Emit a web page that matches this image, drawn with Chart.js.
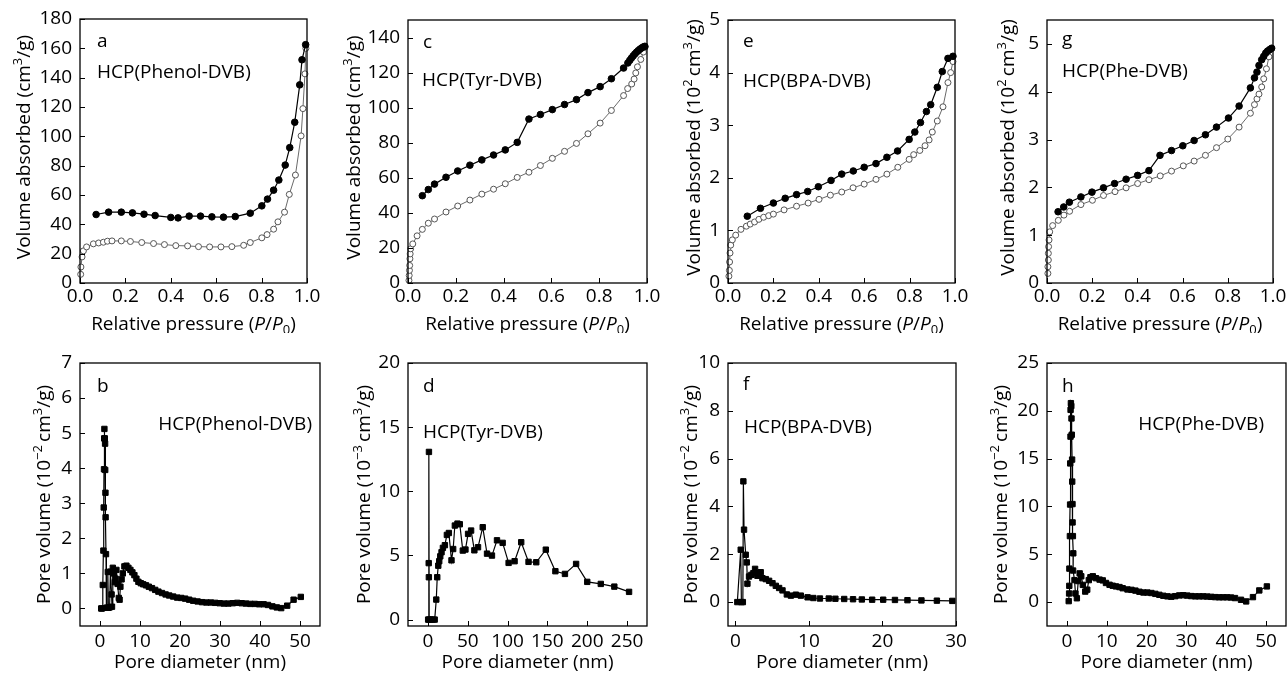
<!DOCTYPE html>
<html>
<head>
<meta charset="utf-8">
<script src="https://cdn.jsdelivr.net/npm/chart.js@4.4.1/dist/chart.umd.min.js"></script>
<style>
html, body { margin: 0; padding: 0; background: #fff; width: 1288px; height: 675px; overflow: hidden; }
canvas { position: absolute; }
</style>
</head>
<body>
<canvas id="pa"></canvas><canvas id="pc"></canvas><canvas id="pe"></canvas><canvas id="pg"></canvas>
<canvas id="pb"></canvas><canvas id="pd"></canvas><canvas id="pf"></canvas><canvas id="ph"></canvas>
<script>
// ---- isotherms (relative pressure P/P0 vs volume) ----
// open circles = adsorption, filled circles = desorption
const phenolAdsP = [0.003,0.004,0.009,0.015,0.029,0.059,0.082,0.103,0.121,0.141,0.182,0.222,0.272,0.324,0.372,0.422,0.474,0.522,0.571,0.621,0.669,0.721,0.75,0.801,0.824,0.853,0.872,0.901,0.922,0.949,0.974,0.982,0.991,0.995];
const phenolAdsV = [5.9,10.9,17.8,21.9,24.6,26.7,27.3,27.8,28.5,28.7,28.7,28.3,27.6,26.9,26.2,25.5,25.3,24.8,24.6,24.6,24.8,25.7,27.6,30.8,33.0,36.7,41.7,48.3,60.4,73.6,100.3,118.9,142.6,160];
const phenolDesP = [0.071,0.126,0.182,0.231,0.282,0.331,0.40,0.432,0.481,0.531,0.581,0.632,0.684,0.75,0.801,0.826,0.853,0.876,0.904,0.924,0.946,0.968,0.978,0.994];
const phenolDesV = [46.7,48.3,48.3,47.8,46.9,46.0,44.7,44.4,45.6,45.6,45.1,44.9,45.3,47.6,52.6,57.2,63.3,70.2,80.4,92.3,109.6,135.1,152.2,162.5];

const tyrAdsP = [0.004,0.005,0.006,0.007,0.008,0.009,0.011,0.02,0.038,0.06,0.085,0.111,0.159,0.208,0.259,0.309,0.358,0.407,0.457,0.506,0.554,0.604,0.655,0.705,0.753,0.804,0.851,0.902,0.919,0.936,0.946,0.953,0.96,0.974,0.985,0.992];
const tyrAdsV = [1.5,4.3,7.2,10,13.8,16.6,19.5,22.3,26.9,30.6,34.1,36.5,40.5,43.9,47.3,50.7,53.5,56.6,60.2,63.2,67.0,71.1,75.1,79.6,85.1,91.2,98.4,106.9,110.9,113.5,116.3,119.8,123.3,127.5,131.7,134.5];
const tyrDesP = [0.06,0.085,0.111,0.159,0.208,0.259,0.309,0.358,0.407,0.457,0.506,0.554,0.604,0.655,0.705,0.753,0.804,0.851,0.902,0.92,0.928,0.935,0.942,0.949,0.956,0.963,0.97,0.977,0.984,0.991];
const tyrDesV = [49.8,53.3,56.4,60.3,63.9,67.2,70.2,73.0,75.9,80.2,93.5,96.1,98.9,101.8,104.6,108.6,112.0,116.5,122.6,125.5,127,128.3,129.5,130.6,131.6,132.5,133.3,134.0,134.6,135.0];

const bpaAdsP = [0.004,0.006,0.007,0.009,0.012,0.019,0.034,0.057,0.081,0.098,0.117,0.136,0.157,0.179,0.2,0.247,0.302,0.353,0.401,0.451,0.501,0.551,0.6,0.652,0.7,0.748,0.798,0.818,0.845,0.868,0.886,0.9,0.922,0.947,0.969,0.981,0.991];
const bpaAdsV = [0.13,0.24,0.40,0.57,0.72,0.82,0.91,1.02,1.08,1.12,1.16,1.21,1.25,1.28,1.31,1.39,1.46,1.52,1.59,1.67,1.73,1.81,1.88,1.97,2.07,2.20,2.35,2.44,2.52,2.61,2.72,2.87,3.08,3.35,3.81,4.0,4.21];
const bpaDesP = [0.085,0.143,0.2,0.252,0.302,0.351,0.398,0.454,0.501,0.552,0.6,0.652,0.7,0.747,0.798,0.823,0.848,0.874,0.893,0.922,0.944,0.969,0.991];
const bpaDesV = [1.27,1.42,1.52,1.61,1.68,1.74,1.83,1.95,2.07,2.13,2.20,2.27,2.39,2.51,2.73,2.87,3.05,3.26,3.39,3.72,4.02,4.27,4.31];

const pheAdsP = [0.004,0.004,0.006,0.006,0.007,0.009,0.012,0.025,0.05,0.075,0.1,0.15,0.201,0.25,0.301,0.35,0.401,0.451,0.501,0.551,0.603,0.651,0.701,0.75,0.8,0.85,0.9,0.918,0.929,0.938,0.95,0.959,0.971,0.982,0.993];
const pheAdsV = [0.2,0.34,0.48,0.62,0.76,0.9,1.07,1.2,1.31,1.42,1.50,1.64,1.73,1.83,1.91,1.99,2.08,2.16,2.24,2.34,2.45,2.55,2.67,2.83,3.01,3.26,3.55,3.73,3.85,3.95,4.1,4.27,4.48,4.73,4.9];
const pheDesP = [0.049,0.074,0.099,0.15,0.199,0.25,0.299,0.35,0.401,0.451,0.5,0.551,0.601,0.651,0.701,0.75,0.803,0.85,0.9,0.918,0.929,0.938,0.95,0.959,0.968,0.976,0.985,0.994];
const pheDesV = [1.49,1.59,1.69,1.80,1.90,1.99,2.08,2.17,2.25,2.35,2.67,2.77,2.87,2.98,3.10,3.26,3.45,3.70,4.08,4.29,4.41,4.55,4.67,4.74,4.81,4.85,4.88,4.91];

// ---- pore size distributions [diameter nm, pore volume] ----
const phenolPsd = [[0.3,0],[0.5,0],[0.7,0.67],[0.85,1.65],[0.93,2.88],[1.0,3.97],[1.05,4.85],[1.1,5.12],[1.2,4.85],[1.27,4.7],[1.3,3.95],[1.36,3.3],[1.4,2.6],[1.5,1.55],[1.6,0.02],[1.8,0.02],[1.95,1.04],[2.1,0.02],[2.4,0.03],[2.6,1.05],[2.9,0.4],[3.0,0.05],[3.2,1.16],[3.4,1.0],[3.7,0.75],[3.9,0.85],[4.1,1.1],[4.4,0.7],[4.7,0.3],[4.9,0.25],[5.1,0.62],[5.4,0.83],[5.7,1.0],[6.1,1.2],[6.6,1.22],[7.1,1.16],[7.6,1.1],[8.1,1.03],[8.6,0.95],[9.1,0.85],[9.6,0.76],[10.2,0.72],[10.8,0.69],[11.5,0.66],[12.2,0.62],[13,0.58],[13.8,0.53],[14.6,0.48],[15.5,0.44],[16.4,0.4],[17.3,0.37],[18.3,0.34],[19.3,0.31],[20.3,0.3],[21.3,0.28],[22.3,0.25],[23.3,0.22],[24.4,0.2],[25.5,0.18],[26.6,0.17],[27.7,0.17],[28.8,0.16],[29.9,0.15],[31,0.14],[32.1,0.14],[33.2,0.15],[34.3,0.16],[35.4,0.15],[36.5,0.14],[37.6,0.13],[38.7,0.13],[39.8,0.12],[40.9,0.12],[42,0.1],[43.1,0.06],[44.2,0.03],[45.3,0.01],[46.8,0.08],[48.4,0.25],[50.2,0.33]];
const tyrPsd = [[0.3,0],[1.0,4.4],[1.2,3.3],[1.3,13.07],[1.6,0],[3,0],[6,0],[8.5,0],[10.5,1.56],[11.7,3.3],[13,4.2],[14.2,4.55],[15.5,4.93],[17.1,5.25],[18.8,5.59],[21.3,5.8],[23.8,6.6],[26.3,6.75],[29.6,4.62],[31.7,5.5],[33.8,7.33],[37.1,7.48],[40,7.43],[43.8,5.38],[47.1,5.46],[50.4,6.68],[54.2,6.94],[58.3,5.4],[62.9,5.64],[68.8,7.2],[74.2,5.14],[80.4,4.99],[86.7,6.18],[93.8,5.98],[101.3,4.42],[108.8,4.55],[117.1,6.03],[126.3,4.5],[136,4.47],[148,5.45],[160,3.77],[172,3.56],[186,4.34],[200,2.94],[217,2.78],[234,2.57],[252.5,2.16]];
const bpaPsd = [[0.27,0],[0.73,2.19],[0.82,0],[1.02,0],[1.09,5.05],[1.18,3.03],[1.41,1.98],[1.55,1.66],[1.64,0.77],[1.86,1.07],[2.18,1.14],[2.45,1.21],[2.68,1.39],[3.0,1.1],[3.23,1.21],[3.45,1.25],[3.68,1.0],[4.14,0.96],[4.59,0.89],[5.05,0.79],[5.5,0.68],[5.95,0.59],[6.41,0.49],[7.0,0.32],[7.55,0.27],[8.23,0.31],[8.9,0.27],[9.82,0.2],[10.6,0.17],[11.5,0.15],[12.7,0.15],[13.6,0.14],[14.8,0.13],[16,0.12],[17.2,0.11],[18.6,0.1],[20.1,0.1],[21.7,0.09],[23.4,0.08],[25.3,0.07],[27.4,0.06],[29.5,0.05]];
const phePsd = [[0.45,0.1],[0.55,0.9],[0.6,1.7],[0.62,3.5],[0.75,6.9],[0.8,10.2],[0.83,14.5],[0.9,17.3],[0.92,20.1],[1.0,20.8],[1.1,20.5],[1.15,19.2],[1.22,17.5],[1.3,14.9],[1.33,12.6],[1.4,10.25],[1.42,8.33],[1.5,6.9],[1.6,5.1],[1.55,3.3],[1.9,2.3],[2.15,0.9],[2.5,0.4],[2.85,2.2],[3.2,3.0],[3.6,2.7],[4.0,1.8],[4.6,1.1],[5.1,1.3],[5.5,2.3],[5.9,2.6],[6.5,2.7],[7.3,2.5],[8.2,2.35],[9.0,2.27],[9.8,2.0],[10.7,1.81],[11.5,1.71],[12.3,1.64],[13.2,1.57],[14.0,1.45],[15.2,1.32],[16.2,1.28],[17.2,1.2],[18.2,1.08],[19.2,1.0],[20.2,1.0],[21.2,0.95],[22.2,0.86],[23.2,0.76],[24.2,0.66],[25.2,0.6],[26.2,0.56],[27.2,0.62],[28.2,0.7],[29.2,0.72],[30.2,0.68],[31.2,0.63],[32.2,0.6],[33.2,0.6],[34.2,0.6],[35.2,0.58],[36.2,0.55],[37.2,0.52],[38.2,0.5],[39.2,0.5],[40.2,0.5],[41.2,0.48],[42.2,0.42],[43.7,0.24],[45.0,0.07],[46.7,0.52],[48.3,1.22],[50.2,1.64]];

// tick lists
const pressTicks = [0, 0.2, 0.4, 0.6, 0.8, 1.0];
const phenolVTicks = [0, 20, 40, 60, 80, 100, 120, 140, 160, 180];
const tyrVTicks = [0, 20, 40, 60, 80, 100, 120, 140];
const bpaVTicks = [0, 1, 2, 3, 4, 5];
const pheVTicks = [0, 1, 2, 3, 4, 5];
const phenolDTicks = [0, 10, 20, 30, 40, 50];
const phenolPvTicks = [0, 1, 2, 3, 4, 5, 6, 7];
const tyrDTicks = [0, 50, 100, 150, 200, 250];
const tyrPvTicks = [0, 5, 10, 15, 20];
const bpaDTicks = [0, 10, 20, 30];
const bpaPvTicks = [0, 2, 4, 6, 8, 10];
const pheDTicks = [0, 10, 20, 30, 40, 50];
const phePvTicks = [0, 5, 10, 15, 20, 25];

const FAM = "'Open Sans', 'DejaVu Sans', sans-serif";
const FS = 19;

// text pieces: [text, style] with style '' | 'i' | 'sup' | 'sub'
const tVolCm = [['Volume absorbed (cm'], ['3', 'sup'], ['/g)']];
const tVol102 = [['Volume absorbed (10'], ['2', 'sup'], ['\u2009cm'], ['3', 'sup'], ['/g)']];
const tPore2 = [['Pore volume (10'], ['\u22122', 'sup'], ['\u2009cm'], ['3', 'sup'], ['/g)']];
const tPore3 = [['Pore volume (10'], ['\u22123', 'sup'], ['\u2009cm'], ['3', 'sup'], ['/g)']];
const tPress = [['Relative pressure ('], ['P', 'i'], ['/'], ['P', 'i'], ['0', 'sub'], [')']];
const tDiam = [['Pore diameter (nm)']];

function runFont(style) {
    if (style === 'i') return 'italic ' + FS + 'px ' + FAM;
    if (style === 'sup' || style === 'sub') return Math.round(FS * 0.66) + 'px ' + FAM;
    return FS + 'px ' + FAM;
}

function drawRuns(ctx, runs, x, y, rotate) {
    ctx.save();
    ctx.textBaseline = 'alphabetic';
    ctx.textAlign = 'left';
    let total = 0;
    runs.forEach(r => { ctx.font = runFont(r[1]); total += ctx.measureText(r[0]).width; });
    ctx.translate(x, y);
    if (rotate) ctx.rotate(-Math.PI / 2);
    let cx = -total / 2;
    const base = rotate ? FS * 0.36 : 0;
    runs.forEach(r => {
        ctx.font = runFont(r[1]);
        let dy = 0;
        if (r[1] === 'sup') dy = -FS * 0.4;
        if (r[1] === 'sub') dy = FS * 0.22;
        ctx.fillText(r[0], cx, base + dy);
        cx += ctx.measureText(r[0]).width;
    });
    ctx.restore();
}

// frame, inward ticks, panel letter, sample name, axis titles
const decor = {
    id: 'decor',
    afterDraw(chart, args, o) {
        const ctx = chart.ctx;
        const a = chart.chartArea;
        ctx.save();
        ctx.strokeStyle = '#000';
        ctx.lineWidth = 1.3;
        ctx.strokeRect(a.left, a.top, a.right - a.left, a.bottom - a.top);
        ctx.lineWidth = 1;
        ctx.beginPath();
        chart.scales.x.ticks.forEach(t => {
            const px = Math.round(chart.scales.x.getPixelForValue(t.value)) + 0.5;
            ctx.moveTo(px, a.bottom); ctx.lineTo(px, a.bottom - 5);
        });
        chart.scales.y.ticks.forEach(t => {
            const py = Math.round(chart.scales.y.getPixelForValue(t.value)) + 0.5;
            ctx.moveTo(a.left, py); ctx.lineTo(a.left + 5, py);
        });
        ctx.stroke();
        ctx.fillStyle = '#000';
        ctx.font = FS + 'px ' + FAM;
        ctx.textBaseline = 'alphabetic';
        ctx.textAlign = 'left';
        ctx.fillText(o.letter, a.left + o.letterPos[0], a.top + o.letterPos[1]);
        if (o.nameAlign === 'right') {
            ctx.textAlign = 'right';
            ctx.fillText(o.name, a.right - o.namePos[0], a.top + o.namePos[1]);
        } else {
            ctx.fillText(o.name, a.left + o.namePos[0], a.top + o.namePos[1]);
        }
        ctx.restore();
        drawRuns(ctx, o.xTitle, (a.left + a.right) / 2, a.bottom + o.xTitleY, false);
        drawRuns(ctx, o.yTitle, a.left - o.yTitleX, (a.top + a.bottom) / 2 - (o.yShift || 0), true);
    }
};

function zip(xs, ys) {
    return xs.map((x, i) => ({ x: x, y: ys[i] }));
}

const TOP = 12, XH = 50, YW = 80, RP = 16;

function makePanel(id, box, xr, yr, xTicks, yTicks, datasets, deco, fmtX, tickPad) {
    const cv = document.getElementById(id);
    const w = box.R - box.L + YW + RP;
    const h = box.B - box.T + TOP + XH;
    cv.width = w; cv.height = h;
    cv.style.left = (box.L - YW) + 'px';
    cv.style.top = (box.T - TOP) + 'px';
    cv.style.width = w + 'px';
    cv.style.height = h + 'px';
    const tickFont = { family: FAM, size: FS };
    new Chart(cv.getContext('2d'), {
        type: 'scatter',
        data: { datasets: datasets },
        options: {
            responsive: false,
            animation: false,
            devicePixelRatio: 1,
            layout: { padding: { top: TOP, right: RP, left: 0, bottom: 0 } },
            plugins: { legend: { display: false }, tooltip: { enabled: false }, decor: deco },
            scales: {
                x: {
                    type: 'linear', min: xr[0], max: xr[1],
                    grid: { display: false, drawTicks: false }, border: { display: false },
                    afterBuildTicks: s => { s.ticks = xTicks.map(v => ({ value: v })); },
                    afterFit: s => { s.height = XH; s.paddingLeft = 0; s.paddingRight = 0; },
                    ticks: { font: tickFont, color: '#000', padding: tickPad, maxRotation: 0, autoSkip: false, callback: fmtX }
                },
                y: {
                    type: 'linear', min: yr[0], max: yr[1],
                    grid: { display: false, drawTicks: false }, border: { display: false },
                    afterBuildTicks: s => { s.ticks = yTicks.map(v => ({ value: v })); },
                    afterFit: s => { s.width = YW; s.paddingTop = 0; s.paddingBottom = 0; },
                    ticks: { font: tickFont, color: '#000', padding: 8, autoSkip: false, callback: v => String(v) }
                }
            }
        },
        plugins: [decor]
    });
}

function isotherm(desP, desV, adsP, adsV) {
    return [
        { data: zip(desP, desV), showLine: true, borderColor: '#000', borderWidth: 1.2, pointRadius: 3.3,
          pointBackgroundColor: '#000', pointBorderColor: '#000', pointBorderWidth: 1, clip: 8 },
        { data: zip(adsP, adsV), showLine: true, borderColor: '#6a6a6a', borderWidth: 1, pointRadius: 3,
          pointBackgroundColor: '#fff', pointBorderColor: '#555', pointBorderWidth: 1, clip: 8 }
    ];
}

function psd(pairs) {
    return [{ data: pairs.map(p => ({ x: p[0], y: p[1] })), showLine: true, borderColor: '#000', borderWidth: 1.2,
              pointStyle: 'rect', pointRadius: 3.8, pointBackgroundColor: '#000', pointBorderColor: '#000',
              pointBorderWidth: 1, clip: 8 }];
}

const fmt1 = v => v.toFixed(1);
const fmt0 = v => String(v);

makePanel('pa', { L: 80, R: 307, T: 19, B: 283 }, [0, 1], [0, 180], pressTicks, phenolVTicks,
    isotherm(phenolDesP, phenolDesV, phenolAdsP, phenolAdsV),
    { letter: 'a', letterPos: [17, 28], name: 'HCP(Phenol-DVB)', namePos: [17, 59], xTitle: tPress, xTitleY: 47, yTitle: tVolCm, yTitleX: 57, yShift: 4 }, fmt1, 2);
makePanel('pc', { L: 408, R: 647, T: 20, B: 283 }, [0, 1], [0, 150], pressTicks, tyrVTicks,
    isotherm(tyrDesP, tyrDesV, tyrAdsP, tyrAdsV),
    { letter: 'c', letterPos: [15, 28], name: 'HCP(Tyr-DVB)', namePos: [14, 66], xTitle: tPress, xTitleY: 47, yTitle: tVolCm, yTitleX: 55, yShift: 4 }, fmt1, 2);
makePanel('pe', { L: 728, R: 955, T: 20, B: 283 }, [0, 1], [0, 5], pressTicks, bpaVTicks,
    isotherm(bpaDesP, bpaDesV, bpaAdsP, bpaAdsV),
    { letter: 'e', letterPos: [15, 27], name: 'HCP(BPA-DVB)', namePos: [15, 67], xTitle: tPress, xTitleY: 47, yTitle: tVol102, yTitleX: 35, yShift: 4 }, fmt1, 2);
makePanel('pg', { L: 1047, R: 1273, T: 20, B: 283 }, [0, 1], [0, 5.5], pressTicks, pheVTicks,
    isotherm(pheDesP, pheDesV, pheAdsP, pheAdsV),
    { letter: 'g', letterPos: [15, 25], name: 'HCP(Phe-DVB)', namePos: [15, 57], xTitle: tPress, xTitleY: 47, yTitle: tVol102, yTitleX: 40, yShift: 4 }, fmt1, 2);

makePanel('pb', { L: 80, R: 320, T: 363, B: 626 }, [-5, 55], [-0.5, 7], phenolDTicks, phenolPvTicks,
    psd(phenolPsd),
    { letter: 'b', letterPos: [17, 29], name: 'HCP(Phenol-DVB)', namePos: [8, 67], nameAlign: 'right', xTitle: tDiam, xTitleY: 42, yTitle: tPore2, yTitleX: 37 }, fmt0, 4);
makePanel('pd', { L: 408, R: 647, T: 363, B: 626 }, [-25, 275], [-0.5, 20], tyrDTicks, tyrPvTicks,
    psd(tyrPsd),
    { letter: 'd', letterPos: [15, 29], name: 'HCP(Tyr-DVB)', namePos: [15, 75], xTitle: tDiam, xTitleY: 42, yTitle: tPore3, yTitleX: 45 }, fmt0, 4);
makePanel('pf', { L: 728, R: 956, T: 363, B: 626 }, [-1, 30], [-1, 10], bpaDTicks, bpaPvTicks,
    psd(bpaPsd),
    { letter: 'f', letterPos: [15, 27], name: 'HCP(BPA-DVB)', namePos: [16, 70], xTitle: tDiam, xTitleY: 42, yTitle: tPore2, yTitleX: 38 }, fmt0, 4);
makePanel('ph', { L: 1047, R: 1286, T: 363, B: 626 }, [-5, 55], [-2.5, 25], pheDTicks, phePvTicks,
    psd(phePsd),
    { letter: 'h', letterPos: [15, 29], name: 'HCP(Phe-DVB)', namePos: [22, 67], nameAlign: 'right', xTitle: tDiam, xTitleY: 42, yTitle: tPore2, yTitleX: 47 }, fmt0, 4);
</script>
</body>
</html>
